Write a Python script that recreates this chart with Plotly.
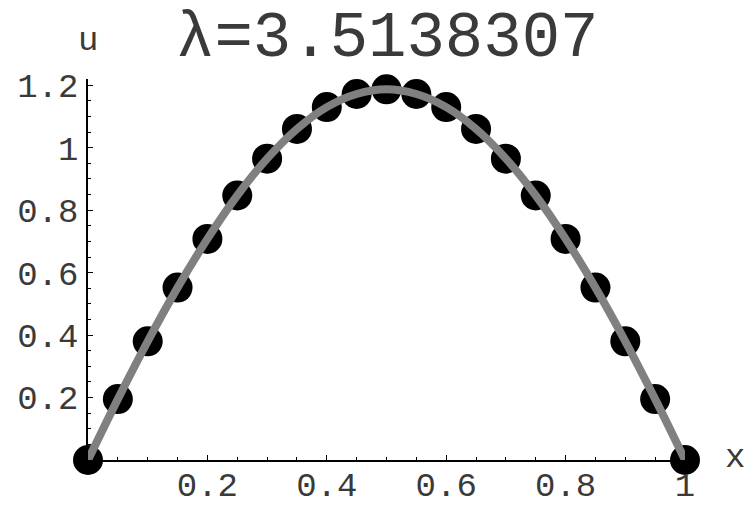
import plotly.graph_objects as go

# Collocation nodes and the computed solution u(x) at those nodes
x_nodes = [0.00, 0.05, 0.10, 0.15, 0.20, 0.25, 0.30, 0.35, 0.40, 0.45, 0.50,
           0.55, 0.60, 0.65, 0.70, 0.75, 0.80, 0.85, 0.90, 0.95, 1.00]
u_nodes = [0.000, 0.195, 0.380, 0.552, 0.708, 0.847, 0.965, 1.060, 1.130, 1.172, 1.187,
           1.172, 1.130, 1.060, 0.965, 0.847, 0.708, 0.552, 0.380, 0.195, 0.000]

tick_vals = [0.2, 0.4, 0.6, 0.8, 1.0]
x_tick_text = ["0.2", "0.4", "0.6", "0.8", "1"]
y_tick_vals = [0.2, 0.4, 0.6, 0.8, 1.0, 1.2]
y_tick_text = ["0.2", "0.4", "0.6", "0.8", "1", "1.2"]

lam_text = "3.5138307"

MONO = "Liberation Mono"
TXT = "#3a3a3a"

fig = go.Figure()

# discrete solution as heavy black dots
fig.add_trace(go.Scatter(
    x=x_nodes, y=u_nodes, mode="markers",
    marker=dict(size=30, color="black"),
    cliponaxis=False, hoverinfo="skip", showlegend=False,
))

# smooth curve drawn over the dots
fig.add_trace(go.Scatter(
    x=x_nodes, y=u_nodes, mode="lines",
    line=dict(color="#808080", width=8, shape="spline"),
    cliponaxis=False, hoverinfo="skip", showlegend=False,
))

axis_common = dict(
    showgrid=False, zeroline=False, showline=True, automargin=False,
    linecolor="black", linewidth=1.5,
    ticks="inside", ticklen=5, tickwidth=1.2, tickcolor="black",
    tickfont=dict(family=MONO, size=34, color=TXT),
    minor=dict(ticks="inside", dtick=0.05, ticklen=3, tickwidth=1, tickcolor="black"),
)

fig.update_xaxes(range=[0, 1.0], tickvals=tick_vals, ticktext=x_tick_text,
                 ticklabelstandoff=-7, **axis_common)
fig.update_yaxes(range=[0, 1.22], tickvals=y_tick_vals, ticktext=y_tick_text,
                 ticklabelstandoff=1, **axis_common)

fig.add_annotation(
    xref="paper", yref="paper", x=0.5, y=1.105, xanchor="center", yanchor="middle",
    text=f"λ={lam_text}",
    showarrow=False, font=dict(family=MONO, size=64, color=TXT),
)
fig.add_annotation(
    xref="paper", yref="paper", x=0.0, y=1.1, xanchor="center", yanchor="middle",
    text="u", showarrow=False, font=dict(family=MONO, size=34, color=TXT),
)
fig.add_annotation(
    xref="paper", yref="paper", x=1.083, y=0.005, xanchor="center", yanchor="middle",
    text="x", showarrow=False, font=dict(family=MONO, size=34, color=TXT),
)

fig.update_layout(
    width=747, height=508,
    margin=dict(l=88, r=62, t=79, b=48),
    paper_bgcolor="white", plot_bgcolor="white",
)

fig.write_html("out.html")
